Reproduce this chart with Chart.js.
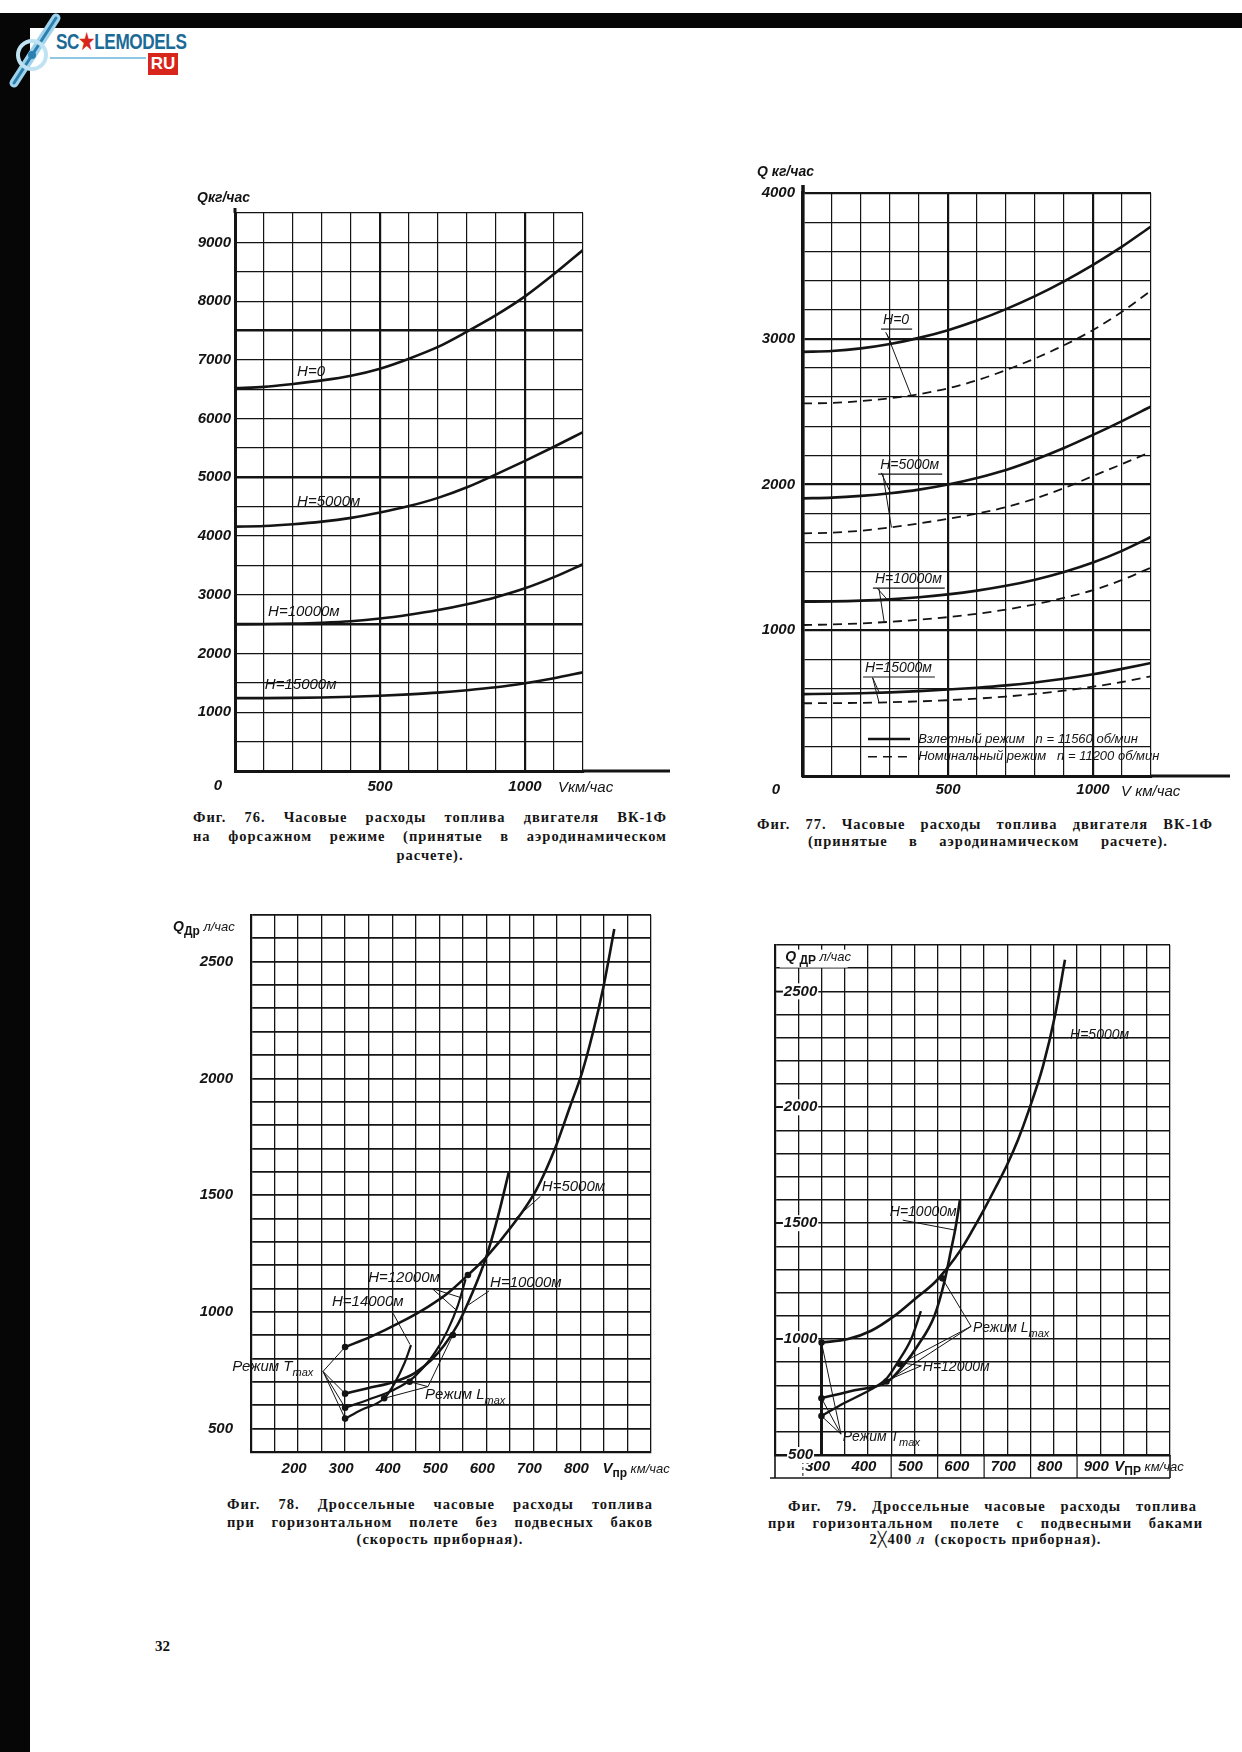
<!DOCTYPE html>
<html lang="ru">
<head>
<meta charset="UTF-8">
<title>Часовые расходы топлива ВК-1Ф</title>
<script src="https://cdn.jsdelivr.net/npm/chart.js"></script>
<style>
  body { margin: 0; background: #fff; }
  #page { position: relative; width: 1242px; height: 1752px; overflow: hidden; background: #fff; color: #111; }
  canvas { position: absolute; }
  .bar { position: absolute; background: #060606; }
  .cap { position: absolute; font: bold 14.5px "Liberation Serif", "DejaVu Serif", serif; letter-spacing: 1px; line-height: 18px; color: #151515; }
  .cap .j { text-align: justify; text-align-last: justify; }
  .cap .c { text-align: center; }
  #logo { position: absolute; left: 0; top: 0; }
  .sm { position: absolute; left: 56px; top: 29px; font: bold 22px "Liberation Sans", Arial, sans-serif; color: #1c6b97;
        transform: scaleX(0.78); transform-origin: left top; letter-spacing: -0.5px; }
  .sm b { color: #d8261d; }
  .ru { position: absolute; left: 148px; top: 53px; width: 30px; height: 22px; background: #d8261d; color: #fff;
        font: bold 17px "Liberation Sans", Arial, sans-serif; text-align: center; line-height: 22px; }
  .pg { position: absolute; left: 155px; top: 1638px; font: bold 15px "Liberation Serif", serif; }
</style>
</head>
<body>
<div id="page">
  <div class="bar" style="left:0;top:13px;width:1242px;height:15px"></div>
  <div class="bar" style="left:0;top:13px;width:30px;height:1739px"></div>
  <div id="logo">
    <svg width="70" height="90" style="position:absolute;left:4px;top:8px">
      <line x1="10" y1="75" x2="52" y2="10" stroke="#9fd3ec" stroke-width="9" stroke-linecap="round"/>
      <line x1="10" y1="75" x2="52" y2="10" stroke="#2c7fae" stroke-width="3" stroke-linecap="round"/>
      <circle cx="28" cy="47" r="14" fill="none" stroke="#bfe3f3" stroke-width="4"/>
      <circle cx="28" cy="47" r="4" fill="#2c7fae"/>
    </svg>
    <div style="position:absolute;left:50px;top:57px;width:96px;height:2px;background:#8fc7e4"></div>
    <div class="sm">SC<b>★</b>LEMODELS</div>
    <div class="ru">RU</div>
  </div>

  <canvas id="c76" width="515" height="640" style="left:165px;top:165px"></canvas>
  <canvas id="c77" width="495" height="650" style="left:745px;top:155px"></canvas>
  <canvas id="c78" width="525" height="580" style="left:165px;top:905px"></canvas>
  <canvas id="c79" width="470" height="560" style="left:765px;top:935px"></canvas>

  <div class="cap" style="left:193px;top:808px;width:474px;line-height:19px">
    <div class="j">Фиг. 76. Часовые расходы топлива двигателя ВК-1Ф</div>
    <div class="j">на форсажном режиме (принятые в аэродинамическом</div>
    <div class="c">расчете).</div>
  </div>
  <div class="cap" style="left:757px;top:816px;width:456px;line-height:17px">
    <div class="j">Фиг. 77. Часовые расходы топлива двигателя ВК-1Ф</div>
    <div class="j" style="margin-left:51px;width:360px">(принятые в аэродинамическом расчете).</div>
  </div>
  <div class="cap" style="left:227px;top:1496px;width:426px;line-height:17.5px">
    <div class="j">Фиг. 78. Дроссельные часовые расходы топлива</div>
    <div class="j">при горизонтальном полете без подвесных баков</div>
    <div class="c">(скорость приборная).</div>
  </div>
  <div class="cap" style="left:768px;top:1498px;width:435px;line-height:16.5px">
    <div class="j" style="margin-left:20px;width:409px">Фиг. 79. Дроссельные часовые расходы топлива</div>
    <div class="j">при горизонтальном полете с подвесными баками</div>
    <div class="c">2╳400 <i>л</i>&nbsp; (скорость приборная).</div>
  </div>
  <div class="pg">32</div>
</div>

<script>
  // ---------- Фиг. 76 : форсажный режим ----------
  const v76 = [0, 100, 200, 300, 400, 500, 600, 700, 800, 900, 1000, 1100, 1200];
  const q76_H0 = [6520, 6540, 6590, 6650, 6730, 6850, 7020, 7220, 7480, 7760, 8080, 8460, 8870];
  const q76_H5000 = [4160, 4170, 4200, 4245, 4310, 4400, 4510, 4650, 4830, 5050, 5280, 5520, 5770];
  const q76_H10000 = [2500, 2502, 2510, 2525, 2550, 2595, 2660, 2740, 2840, 2960, 3110, 3300, 3520];
  const q76_H15000 = [1240, 1241, 1245, 1252, 1263, 1280, 1305, 1335, 1375, 1425, 1495, 1580, 1680];
  const yTicks76 = [1000, 2000, 3000, 4000, 5000, 6000, 7000, 8000, 9000];
  const xTicks76 = [500, 1000];

  // ---------- Фиг. 77 : взлетный / номинальный ----------
  const v77 = [0, 100, 200, 300, 400, 500, 600, 700, 800, 900, 1000, 1100, 1200];
  const q77_H0_vzl = [2910, 2916, 2934, 2964, 3006, 3059, 3125, 3203, 3292, 3394, 3507, 3632, 3770];
  const q77_H0_nom = [2556, 2560, 2572, 2592, 2620, 2660, 2715, 2785, 2865, 2955, 3060, 3185, 3330];
  const q77_H5000_vzl = [1905, 1910, 1922, 1940, 1965, 2000, 2045, 2100, 2170, 2250, 2340, 2435, 2535];
  const q77_H5000_nom = [1665, 1670, 1683, 1705, 1733, 1765, 1800, 1845, 1903, 1975, 2058, 2140, 2225];
  const q77_H10000_vzl = [1196, 1198, 1203, 1212, 1226, 1246, 1272, 1305, 1347, 1400, 1465, 1545, 1640];
  const q77_H10000_nom = [1036, 1040, 1047, 1058, 1072, 1090, 1113, 1142, 1178, 1222, 1275, 1345, 1430];
  const q77_H15000_vzl = [562, 564, 568, 574, 582, 593, 606, 622, 642, 667, 698, 735, 775];
  const q77_H15000_nom = [499, 500, 502, 506, 512, 520, 531, 545, 563, 586, 613, 645, 684];
  const yTicks77 = [1000, 2000, 3000, 4000];
  const xTicks77 = [500, 1000];

  // ---------- Фиг. 78 : без подвесных баков ----------
  const v78_H5000 = [300, 355, 420, 476, 518, 561, 600, 656, 706, 746, 778, 803, 827, 849, 862, 872];
  const q78_H5000 = [850, 894, 958, 1022, 1080, 1158, 1235, 1372, 1522, 1700, 1880, 2022, 2200, 2393, 2530, 2640];
  const v78_H10000 = [300, 348, 405, 447, 483, 511, 539, 570, 600, 625, 648];
  const q78_H10000 = [650, 673, 701, 737, 794, 858, 945, 1080, 1236, 1410, 1600];
  const v78_H12000 = [300, 348, 405, 447, 490, 518, 540, 556];
  const q78_H12000 = [590, 623, 668, 722, 823, 922, 1030, 1140];
  const v78_H14000 = [300, 334, 383, 405, 426, 440];
  const q78_H14000 = [543, 580, 630, 694, 780, 858];
  const v78_Tmax = [300, 300, 300, 300];
  const q78_Tmax = [850, 650, 590, 543];
  const v78_Lmax = [383, 437, 529, 561];
  const q78_Lmax = [630, 701, 901, 1158];
  const yTicks78 = [500, 1000, 1500, 2000, 2500];
  const xTicks78 = [200, 300, 400, 500, 600, 700, 800];

  // ---------- Фиг. 79 : с подвесными баками 2x400 л ----------
  const v79_H5000 = [300, 357, 407, 457, 500, 543, 571, 600, 625, 650, 675, 699, 723, 745, 777, 803, 824];
  const q79_H5000 = [985, 1000, 1036, 1100, 1171, 1243, 1307, 1386, 1470, 1560, 1655, 1750, 1860, 1980, 2180, 2400, 2636];
  const v79_H10000 = [300, 371, 443, 479, 507, 543, 564, 579, 589, 598];
  const q79_H10000 = [745, 779, 817, 893, 971, 1100, 1243, 1386, 1486, 1600];
  const v79_H12000 = [300, 347, 404, 440, 464, 493, 514];
  const q79_H12000 = [668, 722, 780, 830, 900, 1000, 1121];
  const v79_edge = [300, 300];
  const q79_edge = [500, 985];
  const v79_Tmax = [300, 300, 300];
  const q79_Tmax = [985, 745, 668];
  const v79_Lmax = [560, 469, 440];
  const q79_Lmax = [1262, 893, 817];
  const yTicks79 = [500, 1000, 1500, 2000, 2500];
  const xTicks79 = [300, 400, 500, 600, 700, 800, 900];

  const INK = '#141414';
  const TICK = 'italic bold 15px "Liberation Sans", Arial, sans-serif';
  const LAB = 'italic 15px "Liberation Sans", Arial, sans-serif';
  const LAB_S = 'italic 14px "Liberation Sans", Arial, sans-serif';
  const SUB = 'italic 11px "Liberation Sans", Arial, sans-serif';
  const SUB_B = 'bold 12px "Liberation Sans", Arial, sans-serif';

  function curve(xs, ys, extra) {
    return Object.assign({
      data: xs.map((x, i) => ({ x: x, y: ys[i] })),
      borderColor: INK, borderWidth: 2.6, pointRadius: 0, fill: false,
      cubicInterpolationMode: 'monotone'
    }, extra || {});
  }
  function dots(xs, ys) {
    return {
      data: xs.map((x, i) => ({ x: x, y: ys[i] })),
      showLine: false, pointRadius: 3.3, pointBackgroundColor: INK, pointBorderWidth: 0
    };
  }

  function P(c) {
    const sx = c.scales.x, sy = c.scales.y;
    return { x: v => sx.getPixelForValue(v), y: v => sy.getPixelForValue(v), a: c.chartArea };
  }
  function put(ctx, s, x, y, font, align) {
    ctx.font = font; ctx.textAlign = align || 'left'; ctx.textBaseline = 'middle';
    ctx.fillStyle = INK; ctx.fillText(s, x, y);
    return ctx.measureText(s).width;
  }
  function rich(ctx, parts, x, y) {
    ctx.textAlign = 'left'; ctx.textBaseline = 'middle'; ctx.fillStyle = INK;
    let cx = x;
    parts.forEach(([s, f, dy]) => { ctx.font = f; ctx.fillText(s, cx, y + (dy || 0)); cx += ctx.measureText(s).width; });
    return cx - x;
  }
  function line(ctx, x1, y1, x2, y2, w, dash) {
    ctx.beginPath(); ctx.setLineDash(dash || []); ctx.lineWidth = w; ctx.strokeStyle = INK;
    ctx.moveTo(x1, y1); ctx.lineTo(x2, y2); ctx.stroke(); ctx.setLineDash([]);
  }
  function leaders(ctx, p, list) {
    list.forEach(([s, e]) => line(ctx, p.x(s[0]), p.y(s[1]), p.x(e[0]), p.y(e[1]), 1));
  }

  function makeChart(id, cfg) {
    return new Chart(document.getElementById(id), {
      type: 'line',
      data: { datasets: cfg.datasets },
      options: {
        responsive: false, animation: false, devicePixelRatio: 1,
        layout: { padding: cfg.pad },
        plugins: { legend: { display: false }, tooltip: { enabled: false } },
        scales: {
          x: {
            type: 'linear', min: cfg.x[0], max: cfg.x[1],
            ticks: { display: false, stepSize: cfg.x[2] },
            grid: { drawTicks: false, color: INK, lineWidth: cfg.gx },
            border: { display: true, color: INK, width: cfg.bx }
          },
          y: {
            type: 'linear', min: cfg.y[0], max: cfg.y[1],
            ticks: { display: false, stepSize: cfg.y[2] },
            grid: { drawTicks: false, color: INK, lineWidth: cfg.gy },
            border: { display: true, color: INK, width: cfg.by }
          }
        }
      },
      plugins: [{ id: 'deco' + id, afterDatasetsDraw: c => cfg.deco(c) }]
    });
  }
  const tv = c => (c.tick ? c.tick.value : 0);

  // ---- Фиг. 76 ----
  makeChart('c76', {
    x: [0, 1200, 100], y: [0, 9500, 500],
    pad: { left: 70, top: 48, right: 97, bottom: 34 },
    gx: c => (tv(c) % 500 === 0 ? 2.2 : 1.2),
    gy: c => (tv(c) % 2500 === 0 ? 2.4 : 1.2),
    bx: 3, by: 3,
    datasets: [curve(v76, q76_H0), curve(v76, q76_H5000), curve(v76, q76_H10000), curve(v76, q76_H15000)],
    deco(c) {
      const ctx = c.ctx, p = P(c), a = p.a;
      ctx.save();
      line(ctx, a.right, a.bottom, a.right + 87, a.bottom, 3);
      line(ctx, a.left, a.top - 5, a.left, a.top, 3);
      yTicks76.forEach(v => put(ctx, String(v), a.left - 4, p.y(v), TICK, 'right'));
      put(ctx, '0', a.left - 17, a.bottom + 15, TICK, 'center');
      xTicks76.forEach(v => put(ctx, String(v), p.x(v), a.bottom + 16, TICK, 'center'));
      put(ctx, 'Vкм/час', p.x(1000) + 33, a.bottom + 17, LAB, 'left');
      put(ctx, 'Qкг/час', a.left - 38, a.top - 15, 'italic bold 14px "Liberation Sans", Arial, sans-serif', 'left');
      [['H=0', 214, 6790], ['H=5000м', 214, 4580], ['H=10000м', 114, 2707], ['H=15000м', 103, 1464]]
        .forEach(([s, x, y]) => put(ctx, s, p.x(x), p.y(y), LAB, 'left'));
      ctx.restore();
    }
  });

  // ---- Фиг. 77 ----
  const dash = [9, 6];
  makeChart('c77', {
    x: [0, 1200, 100], y: [0, 4000, 200],
    pad: { left: 58, top: 38, right: 89, bottom: 29 },
    gx: c => (tv(c) % 500 === 0 ? 2.2 : 1.2),
    gy: c => (tv(c) % 1000 === 0 ? 2.2 : 1.2),
    bx: 3, by: 3.5,
    datasets: [
      curve(v77, q77_H0_vzl), curve(v77, q77_H0_nom, { borderDash: dash, borderWidth: 1.8 }),
      curve(v77, q77_H5000_vzl), curve(v77, q77_H5000_nom, { borderDash: dash, borderWidth: 1.8 }),
      curve(v77, q77_H10000_vzl), curve(v77, q77_H10000_nom, { borderDash: dash, borderWidth: 1.8 }),
      curve(v77, q77_H15000_vzl), curve(v77, q77_H15000_nom, { borderDash: dash, borderWidth: 1.8 })
    ],
    deco(c) {
      const ctx = c.ctx, p = P(c), a = p.a;
      ctx.save();
      line(ctx, a.right, a.bottom, a.right + 79, a.bottom, 3);
      line(ctx, a.left, a.top - 8, a.left, a.top, 3.5);
      yTicks77.forEach(v => put(ctx, String(v), a.left - 8, p.y(v), TICK, 'right'));
      put(ctx, '0', a.left - 27, a.bottom + 14, TICK, 'center');
      xTicks77.forEach(v => put(ctx, String(v), p.x(v), a.bottom + 14, TICK, 'center'));
      put(ctx, 'V км/час', p.x(1000) + 28, a.bottom + 16, LAB, 'left');
      put(ctx, 'Q кг/час', a.left - 46, a.top - 21, 'italic bold 14px "Liberation Sans", Arial, sans-serif', 'left');
      [['H=0', 276, 3128], ['H=5000м', 266, 2133], ['H=10000м', 248, 1351], ['H=15000м', 214, 741]]
        .forEach(([s, x, y]) => {
          const w = put(ctx, s, p.x(x), p.y(y), LAB_S, 'left');
          line(ctx, p.x(x) - 2, p.y(y) + 9, p.x(x) + w + 3, p.y(y) + 9, 1.2);
        });
      leaders(ctx, p, [
        [[285, 3045], [305, 2968]], [[290, 3030], [372, 2615]],
        [[270, 2080], [300, 1950]], [[275, 2075], [305, 1705]],
        [[255, 1290], [290, 1212]], [[262, 1285], [280, 1056]],
        [[240, 675], [262, 576]], [[240, 675], [262, 506]]
      ]);
      // легенда
      line(ctx, p.x(224), p.y(254), p.x(369), p.y(254), 2.6);
      line(ctx, p.x(224), p.y(132), p.x(369), p.y(132), 1.6, dash);
      put(ctx, 'Взлетный режим   n = 11560 об/мин', p.x(397), p.y(254), 'italic 13px "Liberation Sans", Arial, sans-serif', 'left');
      put(ctx, 'Номинальный режим   n = 11200 об/мин', p.x(397), p.y(132), 'italic 13px "Liberation Sans", Arial, sans-serif', 'left');
      ctx.restore();
    }
  });

  // ---- Фиг. 78 ----
  makeChart('c78', {
    x: [100, 950, 50], y: [400, 2700, 100],
    pad: { left: 86, top: 10, right: 39, bottom: 33 },
    gx: 1.3, gy: 1.8, bx: 2.2, by: 2.2,
    datasets: [
      curve(v78_H5000, q78_H5000), curve(v78_H10000, q78_H10000),
      curve(v78_H12000, q78_H12000, { borderWidth: 2.2 }), curve(v78_H14000, q78_H14000, { borderWidth: 2.2 }),
      dots(v78_Tmax, q78_Tmax), dots(v78_Lmax, q78_Lmax)
    ],
    deco(c) {
      const ctx = c.ctx, p = P(c), a = p.a;
      ctx.save();
      yTicks78.forEach(v => put(ctx, String(v), a.left - 18, p.y(v), TICK, 'right'));
      xTicks78.forEach(v => put(ctx, String(v), p.x(v) - 4, a.bottom + 17, TICK, 'center'));
      rich(ctx, [['V', TICK], ['пр', SUB_B, 5], [' км/час', 'italic 13px "Liberation Sans", Arial, sans-serif']], p.x(800) + 22, a.bottom + 17);
      rich(ctx, [['Q', 'italic bold 14px "Liberation Sans", Arial, sans-serif'], ['Др', SUB_B, 5],
                 [' л/час', 'italic 13px "Liberation Sans", Arial, sans-serif']], a.left - 78, a.top + 12);
      [['H=5000м', 718, 1535], ['H=10000м', 608, 1124], ['H=12000м', 349, 1145], ['H=14000м', 272, 1042]]
        .forEach(([s, x, y]) => put(ctx, s, p.x(x), p.y(y), LAB, 'left'));
      rich(ctx, [['Режим T', LAB], ['max', SUB, 6]], p.x(60), p.y(764));
      rich(ctx, [['Режим L', LAB], ['max', SUB, 6]], p.x(470), p.y(644));
      leaders(ctx, p, [
        [[715, 1495], [662, 1400]], [[606, 1090], [562, 1030]],
        [[485, 1100], [535, 1010]], [[485, 1100], [548, 1060]],
        [[402, 994], [438, 860]],
        [[253, 745], [300, 850]], [[253, 745], [300, 650]], [[253, 745], [300, 590]], [[253, 745], [300, 543]],
        [[476, 680], [383, 630]], [[476, 680], [437, 701]], [[476, 680], [529, 901]]
      ]);
      ctx.restore();
    }
  });

  // ---- Фиг. 79 ----
  makeChart('c79', {
    x: [200, 1050, 50], y: [500, 2700, 100],
    pad: { left: 10, top: 10, right: 65, bottom: 40 },
    gx: 1.3, gy: 1.6, bx: 2.6, by: 2.2,
    datasets: [
      curve(v79_H5000, q79_H5000), curve(v79_H10000, q79_H10000),
      curve(v79_H12000, q79_H12000, { borderWidth: 2.4 }),
      curve(v79_edge, q79_edge, { cubicInterpolationMode: 'default', tension: 0, borderWidth: 3 }),
      dots(v79_Tmax, q79_Tmax), dots(v79_Lmax, q79_Lmax)
    ],
    deco(c) {
      const ctx = c.ctx, p = P(c), a = p.a;
      ctx.save();
      // строка подписей оси V
      const rb = a.bottom + 23;
      line(ctx, a.left - 5, rb, a.right, rb, 1.6);
      line(ctx, a.left, a.bottom, a.left, rb, 1.6);
      line(ctx, a.right, a.bottom, a.right, rb, 1.6);
      [450, 550, 650, 750, 850].forEach(v => line(ctx, p.x(v), a.bottom, p.x(v), rb, 1.2));
      line(ctx, p.x(260), a.bottom, p.x(260), rb, 1, [3, 3]);
      xTicks79.forEach(v => put(ctx, String(v), p.x(v) - 4, a.bottom + 12, TICK, 'center'));
      rich(ctx, [['V', TICK], ['ПР', SUB_B, 5], [' км/час', 'italic 13px "Liberation Sans", Arial, sans-serif']], p.x(900) + 14, a.bottom + 12);
      // подписи оси Q внутри сетки
      yTicks79.forEach(v => {
        ctx.font = TICK;
        const w = ctx.measureText(String(v)).width, cx = p.x(255), y = p.y(v);
        ctx.fillStyle = '#fff'; ctx.fillRect(cx - w / 2 - 1, y - 8, w + 2, 16);
        put(ctx, String(v), cx, y, TICK, 'center');
        line(ctx, a.left, y, cx - w / 2 - 1, y, 1.5);
      });
      ctx.font = 'italic 13px "Liberation Sans", Arial, sans-serif';
      ctx.fillStyle = '#fff'; ctx.fillRect(p.x(210), p.y(2680), 68, 18);
      rich(ctx, [['Q', 'italic bold 14px "Liberation Sans", Arial, sans-serif'], [' ДР', SUB_B, 4],
                 [' л/час', 'italic 13px "Liberation Sans", Arial, sans-serif']], p.x(222), p.y(2648));
      [['H=5000м', 835, 2312], ['H=10000м', 447, 1548], ['H=12000м', 518, 880]]
        .forEach(([s, x, y]) => put(ctx, s, p.x(x), p.y(y), LAB_S, 'left'));
      rich(ctx, [['Режим L', LAB_S], ['max', SUB, 6]], p.x(626), p.y(1048));
      rich(ctx, [['Режим T', LAB_S], ['max', SUB, 6]], p.x(346), p.y(578));
      leaders(ctx, p, [
        [[832, 2300], [794, 2300]], [[475, 1513], [588, 1470]],
        [[622, 1055], [560, 1262]], [[622, 1055], [469, 893]], [[622, 1055], [440, 817]],
        [[515, 885], [464, 900]], [[515, 885], [445, 825]],
        [[342, 590], [300, 985]], [[342, 590], [300, 745]], [[342, 590], [300, 668]]
      ]);
      ctx.restore();
    }
  });
</script>
</body>
</html>
